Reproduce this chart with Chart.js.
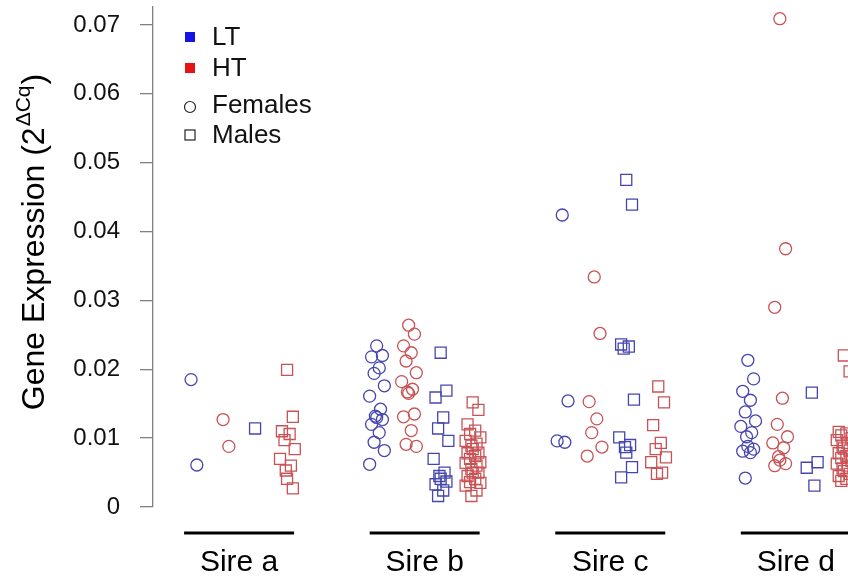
<!DOCTYPE html>
<html>
<head>
<meta charset="utf-8">
<script src="https://cdn.jsdelivr.net/npm/chart.js@4"></script>
<style>
html, body { margin: 0; background: #fff; }
#wrap { width: 848px; height: 583px; position: relative; }
</style>
</head>
<body>
<div id="wrap"><canvas id="c"></canvas></div>
<script>
// valeurs, une liste par sire
const sires = ['Sire a', 'Sire b', 'Sire c', 'Sire d'];
const yTicks = [0, 0.01, 0.02, 0.03, 0.04, 0.05, 0.06, 0.07];

const ltFemales = [
  [0.0185, 0.0061],
  [0.0234, 0.0220, 0.0218, 0.0202, 0.0194, 0.0176, 0.0161, 0.0142, 0.0132, 0.0130, 0.0127, 0.0120, 0.0108, 0.0094, 0.0082, 0.0062],
  [0.0424, 0.0154, 0.0096, 0.0094],
  [0.0213, 0.0186, 0.0168, 0.0155, 0.0138, 0.0125, 0.0117, 0.0108, 0.0102, 0.0088, 0.0084, 0.0081, 0.0079, 0.0042]
];
const htFemales = [
  [0.0127, 0.0088],
  [0.0264, 0.0251, 0.0234, 0.0224, 0.0212, 0.0195, 0.0182, 0.0171, 0.0167, 0.0165, 0.0135, 0.0131, 0.0111, 0.0091, 0.0088],
  [0.0334, 0.0252, 0.0153, 0.0128, 0.0108, 0.0087, 0.0074],
  [0.0709, 0.0375, 0.0290, 0.0158, 0.0120, 0.0102, 0.0093, 0.0086, 0.0073, 0.0068, 0.0063, 0.0060]
];
const ltMales = [
  [0.0114],
  [0.0224, 0.0169, 0.0159, 0.0130, 0.0114, 0.0096, 0.0070, 0.0050, 0.0045, 0.0041, 0.0037, 0.0033, 0.0024, 0.0016],
  [0.0475, 0.0439, 0.0236, 0.0233, 0.0230, 0.0156, 0.0101, 0.0090, 0.0087, 0.0079, 0.0058, 0.0043],
  [0.0166, 0.0065, 0.0057, 0.0031]
];
const htMales = [
  [0.0199, 0.0131, 0.0110, 0.0106, 0.0097, 0.0084, 0.0070, 0.0060, 0.0053, 0.0041, 0.0027],
  [0.0152, 0.0141, 0.0120, 0.0111, 0.0106, 0.0101, 0.0096, 0.0092, 0.0089, 0.0084, 0.0079, 0.0078, 0.0074, 0.0070, 0.0065, 0.0064, 0.0060, 0.0055, 0.0050, 0.0050, 0.0045, 0.0041, 0.0036, 0.0035, 0.0031, 0.0024, 0.0016],
  [0.0175, 0.0152, 0.0119, 0.0093, 0.0084, 0.0072, 0.0065, 0.0050, 0.0048],
  [0.0220, 0.0197, 0.0109, 0.0107, 0.0104, 0.0100, 0.0097, 0.0093, 0.0089, 0.0085, 0.0082, 0.0078, 0.0074, 0.0071, 0.0067, 0.0063, 0.0060, 0.0056, 0.0052, 0.0048, 0.0045, 0.0041, 0.0038]
];

const BLUE = 'rgb(70,70,175)';
const RED = 'rgb(200,82,85)';
const FONT = '"Liberation Sans", Arial, sans-serif';

// écart entre sires (en unités de groupe) et petit décalage horizontal des points
const SIRE_STEP = 5.8;
const JIT = [0, 0.18, -0.16, 0.08, -0.08, 0.24, -0.22, 0.12, -0.04];

function toPoints(groups, g) {
  const pts = [];
  groups.forEach((vals, s) => {
    vals.forEach((v, i) => {
      pts.push({ x: s * SIRE_STEP + g + JIT[i % JIT.length], y: v });
    });
  });
  return pts;
}

function ds(groups, g, color, style) {
  return {
    data: toPoints(groups, g),
    pointStyle: style,
    pointRadius: style === 'rect' ? 7.8 : 6,
    pointBorderWidth: 1.3,
    pointBorderColor: color,
    pointBackgroundColor: 'rgba(0,0,0,0)',
    showLine: false,
    clip: false
  };
}

// titre de l'axe y, traits et noms des sires, légende
const decor = {
  id: 'decor',
  afterDraw(chart) {
    const ctx = chart.ctx;
    const x = chart.scales.x;
    ctx.save();

    // sires
    ctx.fillStyle = '#000';
    ctx.strokeStyle = '#000';
    ctx.lineWidth = 3;
    ctx.font = '30px ' + FONT;
    ctx.textAlign = 'center';
    ctx.textBaseline = 'middle';
    sires.forEach((name, s) => {
      const cx = x.getPixelForValue(s * SIRE_STEP + 1.5);
      ctx.beginPath();
      ctx.moveTo(cx - 55, 533);
      ctx.lineTo(cx + 55, 533);
      ctx.stroke();
      ctx.fillText(name, cx, 563);
    });

    // titre y avec exposant
    ctx.translate(44, 243);
    ctx.rotate(-Math.PI / 2);
    ctx.textAlign = 'left';
    ctx.textBaseline = 'alphabetic';
    const main = 'Gene Expression (2';
    const sup = '\u0394Cq';
    ctx.font = '32px ' + FONT;
    const w1 = ctx.measureText(main).width;
    const w3 = ctx.measureText(')').width;
    ctx.font = '21px ' + FONT;
    const w2 = ctx.measureText(sup).width;
    let tx = -(w1 + w2 + w3) / 2;
    ctx.font = '32px ' + FONT;
    ctx.fillText(main, tx, 0);
    tx += w1;
    ctx.font = '21px ' + FONT;
    ctx.fillText(sup, tx + 1, -14);
    tx += w2 + 2;
    ctx.font = '32px ' + FONT;
    ctx.fillText(')', tx, 0);
    ctx.restore();

    // légende
    ctx.save();
    ctx.font = '26px ' + FONT;
    ctx.textBaseline = 'middle';
    ctx.textAlign = 'left';
    ctx.fillStyle = 'rgb(20,20,230)';
    ctx.fillRect(185, 32, 10, 10);
    ctx.fillStyle = 'rgb(230,20,20)';
    ctx.fillRect(185, 63, 10, 10);
    ctx.strokeStyle = '#222';
    ctx.lineWidth = 1.2;
    ctx.beginPath();
    ctx.arc(190, 107, 5.5, 0, Math.PI * 2);
    ctx.stroke();
    ctx.strokeRect(185, 130, 10, 10);
    ctx.fillStyle = '#111';
    ctx.fillText('LT', 212, 38);
    ctx.fillText('HT', 212, 69);
    ctx.fillText('Females', 212, 106);
    ctx.fillText('Males', 212, 136);
    ctx.restore();
  }
};

new Chart(document.getElementById('c'), {
  type: 'scatter',
  data: {
    datasets: [
      ds(ltFemales, 0, BLUE, 'circle'),
      ds(htFemales, 1, RED, 'circle'),
      ds(ltMales, 2, BLUE, 'rect'),
      ds(htMales, 3, RED, 'rect')
    ]
  },
  options: {
    responsive: true,
    maintainAspectRatio: false,
    animation: false,
    layout: { autoPadding: false, padding: { top: 7, bottom: 76, left: 0, right: 0 } },
    plugins: { legend: { display: false }, tooltip: { enabled: false } },
    scales: {
      x: { type: 'linear', display: false, min: -1.19, max: 20.53 },
      y: {
        min: 0,
        max: 0.0726,
        afterBuildTicks(scale) { scale.ticks = yTicks.map(v => ({ value: v })); },
        afterFit(scale) { scale.width = 153; scale.paddingTop = 0; scale.paddingBottom = 0; },
        border: { display: true, color: '#808080', width: 1.3 },
        grid: { drawOnChartArea: false, drawTicks: true, tickLength: 13, color: '#808080', lineWidth: 1.3 },
        ticks: {
          padding: 20,
          color: '#111',
          font: { family: FONT, size: 24 },
          callback: v => v === 0 ? '0' : v.toFixed(2)
        }
      }
    }
  },
  plugins: [decor]
});
</script>
</body>
</html>
